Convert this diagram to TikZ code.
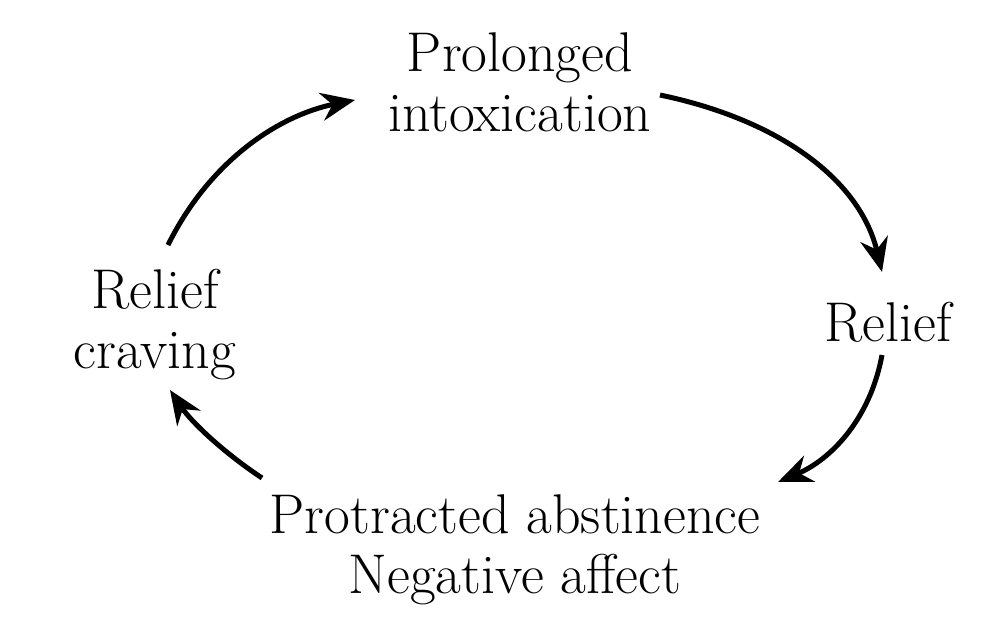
\documentclass[tikz,border=0pt]{standalone}
\usetikzlibrary{arrows.meta}
\begin{document}
\begin{tikzpicture}[x=1pt,y=-1pt,
  lbl/.style={font=\fontsize{56}{60}\selectfont,align=center,inner sep=0pt},
  arr/.style={line width=5pt,-{Stealth[length=34pt,width=28pt]}}]
\useasboundingbox (0,0) rectangle (996,641);
\node[lbl] (top) at (520,82) {Prolonged\\intoxication};
\node[lbl] (right) at (888,322) {Relief};
\node[lbl] (left) at (155,325) {Relief\\craving};
\node[lbl] (bot) at (515,550) {Protracted abstinence\\Negative affect};
\coordinate (a1) at (168,245); \coordinate (a2) at (355,100);
\coordinate (b1) at (660,95); \coordinate (b2) at (882,272);
\coordinate (c1) at (882,355); \coordinate (c2) at (778,482);
\coordinate (d1) at (262,478); \coordinate (d2) at (170,390);
\draw[arr] (a1) .. controls (210,160) and (280,115) .. (a2);
\draw[arr] (b1) .. controls (780,120) and (860,180) .. (b2);
\draw[arr] (c1) .. controls (870,420) and (830,460) .. (c2);
\draw[arr] (d1) .. controls (220,450) and (190,420) .. (d2);
\end{tikzpicture}
\end{document}
